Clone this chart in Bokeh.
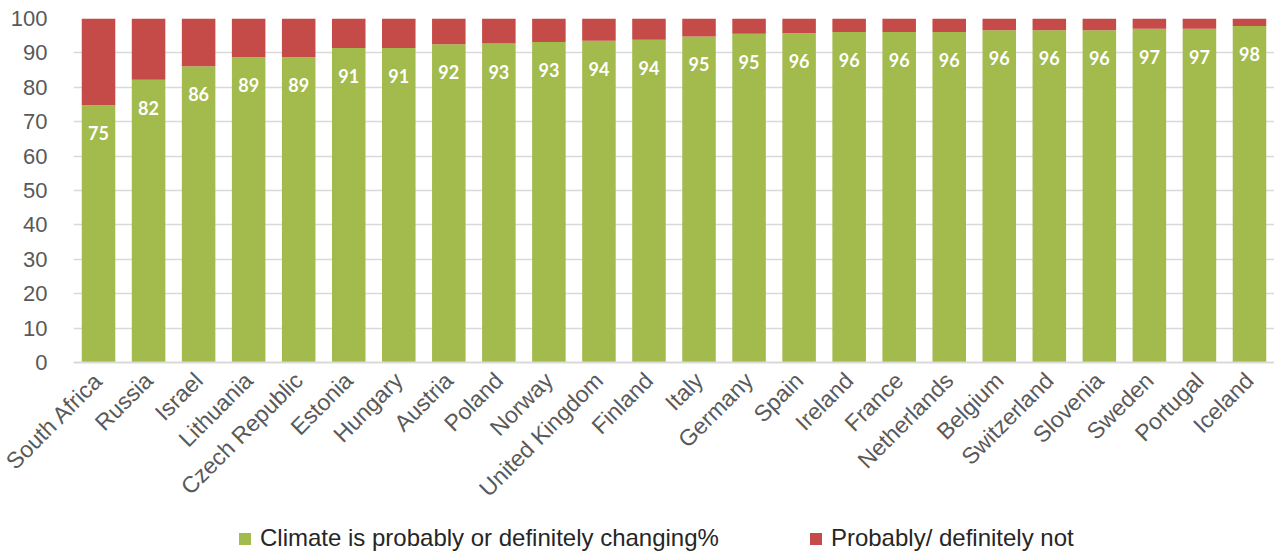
import math
from bokeh.plotting import figure
from bokeh.layouts import column
from bokeh.models import ColumnDataSource, Range1d, FactorRange, Legend, LegendItem, FixedTicker
from bokeh.core.properties import value
from bokeh.embed import file_html
from bokeh.resources import INLINE

countries = ["South Africa", "Russia", "Israel", "Lithuania", "Czech Republic", "Estonia",
             "Hungary", "Austria", "Poland", "Norway", "United Kingdom", "Finland", "Italy",
             "Germany", "Spain", "Ireland", "France", "Netherlands", "Belgium", "Switzerland",
             "Slovenia", "Sweden", "Portugal", "Iceland"]
changing = [74.8, 82.2, 86.1, 88.7, 88.7, 91.4, 91.4, 92.5, 92.7, 93.2, 93.5, 93.8, 94.8,
            95.6, 95.7, 96.1, 96.1, 96.1, 96.6, 96.6, 96.6, 97.0, 97.0, 97.8]
not_changing = [25.2, 17.8, 13.9, 11.3, 11.3, 8.6, 8.6, 7.5, 7.3, 6.8, 6.5, 6.2, 5.2,
                4.4, 4.3, 3.9, 3.9, 3.9, 3.4, 3.4, 3.4, 3.0, 3.0, 2.2]
bar_labels = ["75", "82", "86", "89", "89", "91", "91", "92", "93", "93", "94", "94", "95",
              "95", "96", "96", "96", "96", "96", "96", "96", "97", "97", "98"]
y_ticks = [0, 10, 20, 30, 40, 50, 60, 70, 80, 90, 100]
series_names = ["Climate is probably or definitely changing%", "Probably/ definitely not"]

GREEN = "#A3BA4C"
RED = "#C44B47"
TICK_FONT = "Liberation Sans"

source = ColumnDataSource(dict(country=countries, changing=changing,
                               not_changing=not_changing, label=bar_labels))

p = figure(width=1274, height=516, output_backend="svg", toolbar_location=None,
           x_range=FactorRange(*countries, range_padding=0), y_range=Range1d(0, 100),
           min_border_left=73, min_border_right=0, min_border_top=18, min_border_bottom=154)

r = p.vbar_stack(["changing", "not_changing"], x="country", width=0.67, source=source,
                 color=[GREEN, RED], line_color=None)

p.text(x="country", y="changing", text="label", source=source, y_offset=28,
       text_align="center", text_baseline="middle", text_color="white",
       text_font=value("Lato"), text_font_style="bold", text_font_size="18px")

p.outline_line_color = None
p.xgrid.grid_line_color = None
p.ygrid.grid_line_color = "#d9d9d9"
p.ygrid.grid_line_width = 1.5
p.ygrid.ticker = FixedTicker(ticks=y_ticks)

p.yaxis.ticker = FixedTicker(ticks=y_ticks)
p.yaxis.axis_line_color = None
p.yaxis.major_tick_line_color = None
p.yaxis.minor_tick_line_color = None
p.yaxis.major_tick_out = 0
p.yaxis.minor_tick_out = 0
p.yaxis.major_label_standoff = 26
p.yaxis.major_label_text_font = TICK_FONT
p.yaxis.major_label_text_font_size = "22px"
p.yaxis.major_label_text_color = "#595959"

p.xaxis.axis_line_color = "#d9d9d9"
p.xaxis.axis_line_width = 2
p.xaxis.major_tick_line_color = None
p.xaxis.minor_tick_line_color = None
p.xaxis.major_tick_out = 0
p.xaxis.minor_tick_out = 0
p.xaxis.major_label_orientation = math.pi / 4
p.xaxis.major_label_standoff = 14
p.xaxis.major_label_text_baseline = "top"
p.xaxis.major_label_text_font = TICK_FONT
p.xaxis.major_label_text_font_size = "23px"
p.xaxis.major_label_text_color = "#595959"

# legend strip below the chart: zero-width, out-of-range bars, only their legend shows
lf = figure(width=1274, height=36, output_backend="svg", toolbar_location=None,
            x_range=FactorRange(*countries, range_padding=0), y_range=Range1d(-200, -190),
            x_axis_type=None, y_axis_type=None,
            min_border_left=73, min_border_right=0, min_border_top=0, min_border_bottom=0)
lf.outline_line_color = None
lf.grid.visible = False
g = lf.vbar_stack(["changing", "not_changing"], x="country", width=0, source=source,
                  color=[GREEN, RED], line_color=None)
legend = Legend(items=[LegendItem(label=series_names[0], renderers=[g[0]]),
                       LegendItem(label=series_names[1], renderers=[g[1]])],
                location=(164, 0), orientation="horizontal",
                glyph_width=15, glyph_height=15, label_standoff=8, spacing=89,
                padding=0, margin=0, border_line_color=None, background_fill_alpha=0,
                label_text_font="Liberation Sans", label_text_font_size="24px",
                label_text_color="#262626", label_height=24)
lf.add_layout(legend)

layout = column(p, lf, spacing=0)
open("out.html", "w").write(file_html(layout, INLINE))
